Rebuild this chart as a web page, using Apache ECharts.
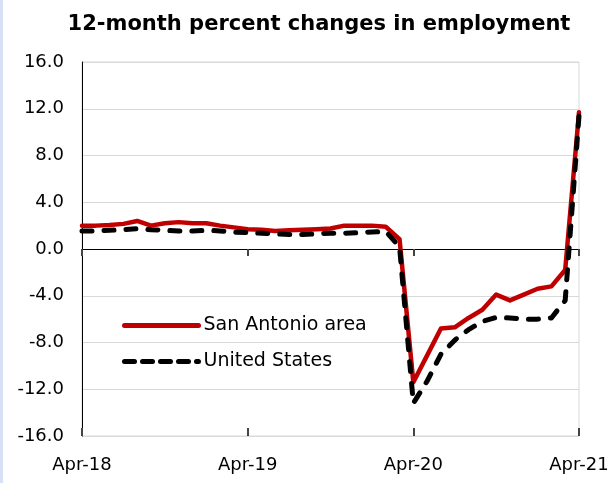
<!DOCTYPE html>
<html>
<head>
<meta charset="utf-8">
<script src="https://cdn.jsdelivr.net/npm/echarts@6/dist/echarts.min.js"></script>
<style>html,body{margin:0;padding:0;background:#fff;}#c{width:616px;height:483px;}</style>
</head>
<body>
<div id="c"></div>
<script>
var categories = ['Apr-18','May-18','Jun-18','Jul-18','Aug-18','Sep-18','Oct-18','Nov-18','Dec-18','Jan-19','Feb-19','Mar-19',
  'Apr-19','May-19','Jun-19','Jul-19','Aug-19','Sep-19','Oct-19','Nov-19','Dec-19','Jan-20','Feb-20','Mar-20',
  'Apr-20','May-20','Jun-20','Jul-20','Aug-20','Sep-20','Oct-20','Nov-20','Dec-20','Jan-21','Feb-21','Mar-21','Apr-21'];
var sanAntonio = [2.0,2.0,2.05,2.15,2.4,2.0,2.2,2.3,2.2,2.2,2.0,1.85,
  1.7,1.65,1.55,1.6,1.65,1.7,1.75,2.0,2.0,2.0,1.9,0.85,
  -11.4,-9.1,-6.8,-6.7,-5.9,-5.2,-3.9,-4.4,-3.9,-3.4,-3.2,-1.8,11.7];
var unitedStates = [1.55,1.55,1.6,1.65,1.75,1.65,1.6,1.55,1.55,1.6,1.55,1.45,
  1.4,1.35,1.3,1.25,1.25,1.3,1.35,1.35,1.4,1.45,1.5,0.2,
  -13.2,-11.3,-9.0,-7.8,-6.9,-6.2,-5.85,-5.9,-6.0,-6.0,-5.9,-4.4,11.4];
var seriesNames = ['San Antonio area','United States'];
var titleText = '12-month percent changes in employment';

var FONT = 'DejaVu Sans';
var RED = '#c00000';
var chart = echarts.init(document.getElementById('c'), null, {renderer:'canvas'});
var baseX = {
  type:'category', data:categories, boundaryGap:false, position:'bottom',
  axisLine:{show:false}, axisTick:{show:false}, axisLabel:{show:false}, splitLine:{show:false}
};
chart.setOption({
  animation:false,
  backgroundColor:'#fff',
  title:{text:titleText, left:314, textAlign:'center', top:9,
    textStyle:{fontFamily:FONT, fontWeight:'bold', fontSize:21, color:'#000'}},
  graphic:[{type:'rect', shape:{x:0,y:0,width:3,height:483}, style:{fill:'#d6e2f3'}}],
  grid:{left:82, right:37, top:62, bottom:47, show:true, borderColor:'#d9d9d9', borderWidth:1},
  legend:{orient:'vertical', left:122, top:316, padding:0, itemWidth:74, itemHeight:16, itemGap:17,
    data:[
      {name:seriesNames[0], lineStyle:{width:5, color:RED, type:'solid', cap:'round'}},
      {name:seriesNames[1], lineStyle:{width:5, color:'#000', type:[10,8], cap:'round'}}
    ],
    itemStyle:{opacity:0},
    textStyle:{fontFamily:FONT, fontSize:19, color:'#000', padding:[0,0,0,0]}},
  xAxis:[
    Object.assign({}, baseX, {axisLabel:{show:true, interval:11, margin:20, fontFamily:FONT, fontSize:18, color:'#000'}, axisLine:{show:false, onZero:false}}),
    Object.assign({}, baseX, {axisLine:{show:true, onZero:true, lineStyle:{color:'#000', width:1}},
      axisTick:{show:true, interval:11, length:7, inside:false, lineStyle:{color:'#444', width:2}}}),
    Object.assign({}, baseX, {axisLine:{show:false, onZero:true},
      axisTick:{show:true, interval:11, length:8, inside:true, lineStyle:{color:'#444', width:2}}})
  ],
  yAxis:{type:'value', min:-16, max:16, interval:4,
    axisLine:{show:true, lineStyle:{color:'#000', width:1}},
    axisTick:{show:false},
    axisLabel:{margin:18, fontFamily:FONT, fontSize:18, color:'#000', formatter:function(v){return v.toFixed(1);}},
    splitLine:{show:true, lineStyle:{color:'#d9d9d9', width:1}}},
  series:[
    {name:seriesNames[0], type:'line', data:sanAntonio, symbol:'none', showSymbol:false, xAxisIndex:0,
      lineStyle:{color:RED, width:4.5, cap:'round', join:'round'}, itemStyle:{color:RED}, z:3},
    {name:seriesNames[1], type:'line', data:unitedStates, symbol:'none', showSymbol:false, xAxisIndex:0,
      lineStyle:{color:'#000', width:5, type:[10,12], cap:'round', join:'round'}, itemStyle:{color:'#000'}, z:4}
  ]
});
</script>
</body>
</html>
